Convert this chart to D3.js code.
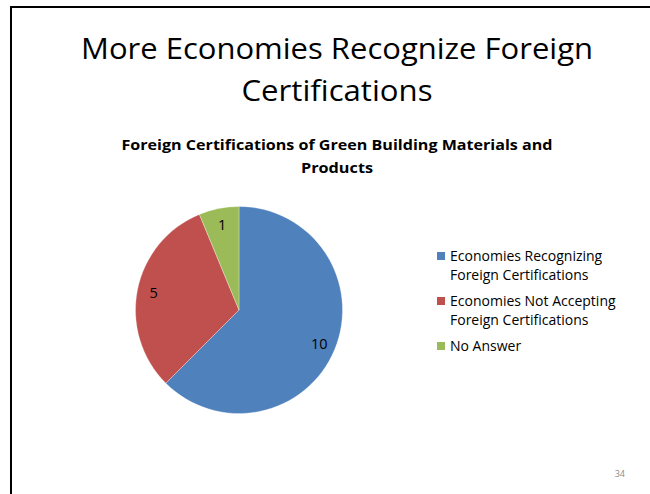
<!DOCTYPE html>
<meta charset="utf-8">
<style>
body { margin: 0; background: #fff; }
svg { display: block; font-family: "Open Sans", Lato, sans-serif; font-variant-ligatures: none; }
</style>
<svg width="650" height="494"></svg>
<script src="https://d3js.org/d3.v7.min.js"></script>
<script>

var categories = ["Economies Recognizing Foreign Certifications",
                  "Economies Not Accepting Foreign Certifications",
                  "No Answer"];
var values = [10, 5, 1];
var colors = ["#4f81bd", "#c0504d", "#9bbb59"];
var legendLines = [["Economies Recognizing", "Foreign Certifications"],
                   ["Economies Not Accepting", "Foreign Certifications"],
                   ["No Answer"]];
var titleLines = ["More Economies Recognize Foreign", "Certifications"];
var titleWidths = [512, 191];
var chartTitleLines = ["Foreign Certifications of Green Building Materials and", "Products"];
var chartTitleWidths = [431, 72];

var svg = d3.select("svg"),
    width = +svg.attr("width"),
    height = +svg.attr("height");

// slide frame
svg.append("rect")
    .attr("x", 11).attr("y", 7)
    .attr("width", width).attr("height", height)
    .attr("fill", "none")
    .attr("stroke", "#000")
    .attr("stroke-width", 2);

// slide title
svg.append("g").selectAll("text")
  .data(titleLines)
  .enter().append("text")
    .attr("x", 337)
    .attr("y", function(d, i) { return 58.5 + i * 42.5; })
    .attr("text-anchor", "middle")
    .attr("font-size", 30)
    .attr("textLength", function(d, i) { return titleWidths[i]; })
    .attr("lengthAdjust", "spacingAndGlyphs")
    .attr("fill", "#000")
    .text(function(d) { return d; });

// chart title
svg.append("g").selectAll("text")
  .data(chartTitleLines)
  .enter().append("text")
    .attr("x", 337)
    .attr("y", function(d, i) { return 150 + i * 23; })
    .attr("text-anchor", "middle")
    .attr("font-size", 15)
    .attr("font-weight", "bold")
    .attr("textLength", function(d, i) { return chartTitleWidths[i]; })
    .attr("lengthAdjust", "spacingAndGlyphs")
    .attr("fill", "#000")
    .text(function(d) { return d; });

var cx = 239, cy = 310, radius = 103.5;

var pie = d3.pie().sort(null).value(function(d) { return d; });
var arc = d3.arc().innerRadius(0).outerRadius(radius);
var labelArc = d3.arc().innerRadius(87).outerRadius(87);

var g = svg.append("g").attr("transform", "translate(" + cx + "," + cy + ")");
var arcs = pie(values);

g.selectAll("path")
  .data(arcs)
  .enter().append("path")
    .attr("d", arc)
    .attr("fill", function(d, i) { return colors[i]; })
    .attr("stroke", "#fff")
    .attr("stroke-opacity", 0.5)
    .attr("stroke-width", 0.6);

g.selectAll("text.value")
  .data(arcs)
  .enter().append("text")
    .attr("class", "value")
    .attr("transform", function(d) { return "translate(" + labelArc.centroid(d) + ")"; })
    .attr("text-anchor", "middle")
    .attr("dy", "0.36em")
    .attr("font-size", 14.5)
    .attr("fill", "#000")
    .text(function(d) { return d.data; });

// legend
var legendY = d3.scalePoint().domain(d3.range(categories.length)).range([256, 346]);
var legend = svg.append("g").selectAll("g")
  .data(categories)
  .enter().append("g")
    .attr("transform", function(d, i) { return "translate(437," + legendY(i) + ")"; });

legend.append("rect")
    .attr("x", 0).attr("y", -4)
    .attr("width", 8).attr("height", 8)
    .attr("fill", function(d, i) { return colors[i]; });

legend.each(function(d, i) {
  d3.select(this).selectAll("text")
    .data(legendLines[i])
    .enter().append("text")
      .attr("x", 13)
      .attr("y", function(t, j) { return 5 + j * 19; })
      .attr("font-size", 14)
      .attr("fill", "#000")
      .text(function(t) { return t; });
});

// slide number
svg.append("text")
    .attr("x", 625).attr("y", 477)
    .attr("text-anchor", "end")
    .attr("font-size", 9)
    .attr("fill", "#8c8c8c")
    .text("34");

</script>
</html>
